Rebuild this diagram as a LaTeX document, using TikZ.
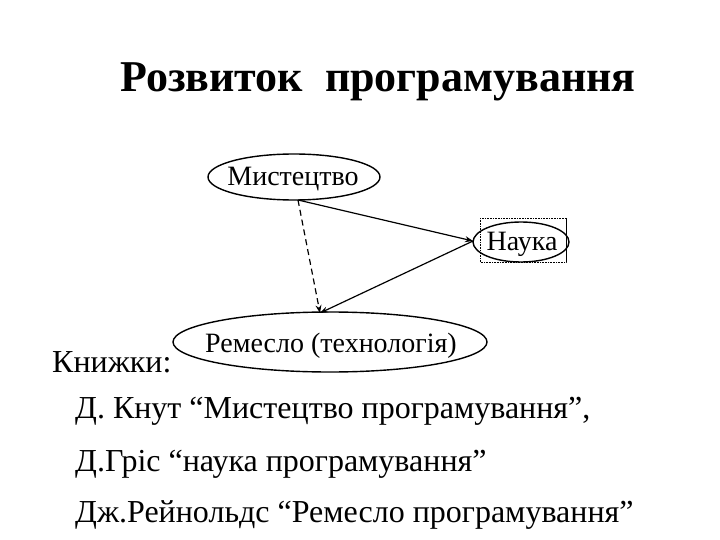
\documentclass[tikz,border=0pt]{standalone}
\usepackage{fontspec}
\setmainfont{Liberation Serif}
\usetikzlibrary{positioning,arrows.meta}
\begin{document}
\begin{tikzpicture}[%
            x=1pt, y=-1pt,
            label text/.style={anchor=base, inner sep=0pt, font=\fontsize{28}{32}\selectfont},
            ring/.style={line width=1.4pt},
            booktext/.style={anchor=base west, inner sep=0pt, font=\fontsize{32}{36}\selectfont},
            link/.style={line width=1.2pt, -{Stealth[length=8pt,width=6pt]}}
        ]
        \useasboundingbox (0,0) rectangle (720,540);

        \node (title) at (378,82) {\fontsize{44}{50}\selectfont\bfseries Розвиток\ \ програмування};

        % ovals drawn round the words
        \node [label text] (art) at (293,186) {Мистецтво};
        \draw [ring] (294,177) ellipse [x radius=86, y radius=23];
        \node [label text] (science) at (522,251) {Наука};
        \draw [ring] (521,242) ellipse [x radius=48, y radius=20];
        \draw [densely dotted, line width=0.6pt] (480,218) rectangle (566,262);
        \draw [line width=0.8pt] (566,218) -- (566,262);
        \node [label text] (craft) at (331,352) {Ремесло (технологія)};
        \draw [ring] (330,342) ellipse [x radius=157, y radius=30];

        \coordinate (artfoot) at (298,200);
        \coordinate (sciencewest) at (473,241);
        \coordinate (crafttop) at (320,313);
        \draw [link] (artfoot) -- (sciencewest);
        \draw [link, dash pattern=on 6pt off 4pt] (artfoot) -- (crafttop);
        \draw [link] (sciencewest) -- (crafttop);

        \node [booktext] (books) at (52,372) {Книжки:};
        \node [booktext] (knuth) at (75,418) {Д. Кнут “Мистецтво програмування”,};
        \node [booktext] (gries) at (75,471) {Д.Гріс “наука програмування”};
        \node [booktext] (reynolds) at (75,522) {Дж.Рейнольдс “Ремесло програмування”};
    \end{tikzpicture}
\end{document}
